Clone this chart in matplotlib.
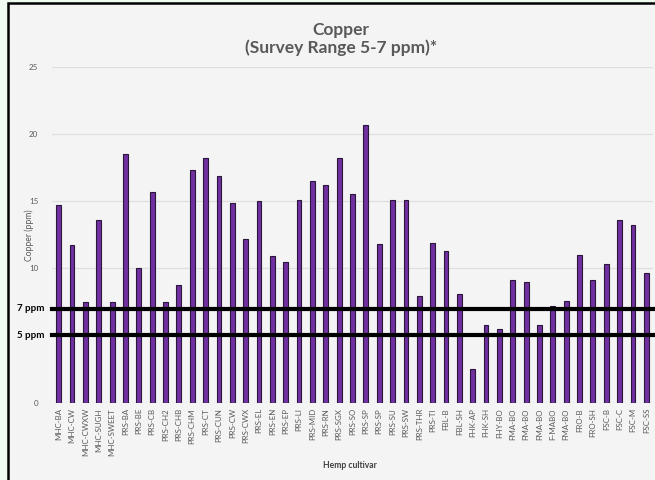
import matplotlib
matplotlib.use("Agg")
import matplotlib.pyplot as plt
from matplotlib.patches import Rectangle

plt.rcParams['font.family'] = ['Lato', 'DejaVu Sans']

cultivars = [
    "MHC-BA", "MHC-CW", "MHC-CWXW", "MHC-SUGH", "MHC-SWEET",
    "PRS-BA", "PRS-BE", "PRS-CB", "PRS-CH2", "PRS-CHB", "PRS-CHM",
    "PRS-CT", "PRS-CUN", "PRS-CW", "PRS-CWX", "PRS-EL", "PRS-EN",
    "PRS-EP", "PRS-LI", "PRS-MID", "PRS-RN", "PRS-SGX", "PRS-SO",
    "PRS-SP", "PRS-SP", "PRS-SU", "PRS-SW", "PRS-THR", "PRS-TI",
    "FBL-B", "FBL-SH", "FHK-AP", "FHK-SH", "FHY-BO", "FMA-BO",
    "FMA-BO", "FMA-BO", "F-MABO", "FMA-BO", "FRO-B", "FRO-SH",
    "FSC-B", "FSC-C", "FSC-M", "FSC-SS",
]
copper_ppm = [
    14.7, 11.7, 7.5, 13.6, 7.5,
    18.5, 10.0, 15.7, 7.5, 8.75, 17.3,
    18.2, 16.85, 14.9, 12.2, 15.0, 10.9,
    10.5, 15.1, 16.5, 16.2, 18.2, 15.5,
    20.7, 11.8, 15.1, 15.1, 7.9, 11.9,
    11.3, 8.1, 2.5, 5.8, 5.5, 9.1,
    8.95, 5.75, 7.2, 7.6, 11.0, 9.15,
    10.3, 13.6, 13.2, 9.65,
]
survey_limits = [7, 5]
limit_labels = ["7 ppm", "5 ppm"]
y_ticks = [0, 5, 10, 15, 20, 25]
y_tick_labels = ["0", "", "10", "15", "20", "25"]

W, H = 655, 480
fig = plt.figure(figsize=(W / 100, H / 100), dpi=100)
fig.patch.set_facecolor("#effbee")

# chart panel with black frame
panel = Rectangle((8 / W, -0.02), 1.0, 1 - 3 / H + 0.02,
                  transform=fig.transFigure, facecolor="#f4f4f4",
                  edgecolor="black", linewidth=1.8, zorder=-10)
fig.add_artist(panel)

ax = fig.add_axes([52 / W, 1 - 402.5 / H, 601 / W, (402.5 - 67) / H])
ax.set_zorder(1)
ax.set_facecolor("#f4f4f4")
x = list(range(len(cultivars)))
ax.bar(x, copper_ppm, width=0.36, color="#7030a0",
       edgecolor="#2a1638", linewidth=0.8, zorder=3)

ax.set_xlim(-0.5, len(cultivars) - 0.5)
ax.set_ylim(0, 25)
ax.set_yticks(y_ticks)
ax.set_yticklabels(y_tick_labels)
ax.set_xticks(x)
ax.set_xticklabels(cultivars, rotation=90, fontsize=5.7, color="#595959")
ax.tick_params(axis="y", labelsize=5.7, labelcolor="#595959", length=0, pad=10)
ax.tick_params(axis="x", length=0, pad=4)
ax.yaxis.grid(True, color="#dedede", linewidth=0.9, zorder=0)
ax.set_axisbelow(True)
for s in ax.spines.values():
    s.set_visible(False)

# survey range reference lines
for val, lab in zip(survey_limits, limit_labels):
    ax.axhline(val, color="black", linewidth=3.0, zorder=4, clip_on=False)
    ax.text(-0.012, val, lab, transform=ax.get_yaxis_transform(),
            ha="right", va="center", fontsize=7, fontweight="bold",
            color="black")

ax.set_ylabel("Copper (ppm)", fontsize=6.2, color="#595959", labelpad=10)
ax.yaxis.set_label_coords(-0.03, 0.5)
ax.set_xlabel("Hemp cultivar", fontsize=6.2, fontweight="bold", color="#404040")
ax.xaxis.set_label_coords(0.495, -0.175)

fig.text(341 / W, 1 - 30 / H, "Copper", ha="center", va="center",
         fontsize=12.5, fontweight="bold", color="#595959")
fig.text(341 / W, 1 - 48 / H, "(Survey Range 5-7 ppm)*", ha="center",
         va="center", fontsize=12.5, fontweight="bold", color="#595959")

fig.savefig("out.png", dpi=100, facecolor=fig.get_facecolor())
